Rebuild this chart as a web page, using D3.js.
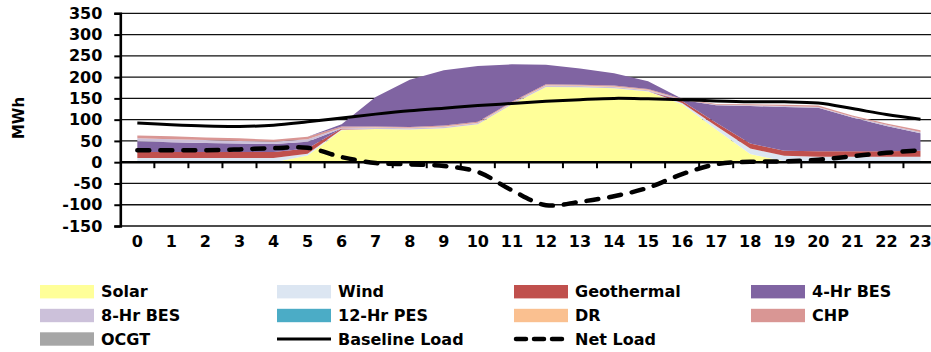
<!DOCTYPE html>
<html><head><meta charset="utf-8">
<script src="https://cdn.jsdelivr.net/npm/d3@7"></script>
<style>
html,body{margin:0;padding:0;background:#fff;}
svg{display:block;}
text{font-family:"DejaVu Sans",sans-serif;font-weight:bold;fill:#000;}
</style></head>
<body>
<svg id="chart" width="931" height="352"></svg>
<script>
// ---------------- data ----------------
const hours = d3.range(0, 24).map(String);
const solar      = [0,0,0,0,0,16,75,78,77,80,89,136,177,176,174,166,136,77,19,2,0,0,0,0];
const wind       = [10,10,10,10,10,4,2,0,0,0,0,0,0,0,0,1,3,8,13,13,13,13,13,13];
const geothermal = [14,14,14,14,14,12,2,0,0,0,0,0,0,0,0,0,5,8,12,12,13,13,13,14];
const bes4       = [25,23,21,20,19,16,0,0,0,0,0,0,0,0,0,0,2,41,88,103,102,79,59,41];
const bes8       = [7,7,7,6,5,6,2,3,3,3,3,3,3,3,3,2,1,1,2,2,2,2,3,3];
const pes12      = [0,0,0,0,0,0,0,0,0,0,0,0,0,0,0,0,0,0,0,0,0,0,0,0];
const dr         = [0,0,0,0,0,0,0,1,1,1,1,1,1,1,1,1,0,0,0,0,0,0,0,0];
const chp        = [7,7,6,6,5,6,3,2,2,2,2,2,2,2,2,2,2,2,2,3,3,3,3,4];
const ocgt       = [0,0,0,0,0,0,0,0,0,0,0,0,0,0,0,0,0,0,0,0,0,0,0,0];
const bes4Charge = [0,0,0,0,0,0,5,69,111,130,131,88,46,38,29,18,0,0,0,0,0,0,0,0];
const baselineLoad = [92,88,85,84,87,95,104,113,121,127,133,138,143,147,150,149,147,144,142,142,139,126,112,101];
const netLoad      = [28,28,28,30,33,34,12,-2,-5,-9,-23,-66,-101,-93,-80,-60,-28,-5,1,2,6,14,22,28];
const yTicks = [-150,-100,-50,0,50,100,150,200,250,300,350];

const seriesNames  = ["Solar","Wind","Geothermal","4-Hr BES","8-Hr BES","12-Hr PES","DR","CHP","OCGT"];
const seriesColors = ["#FFFF99","#DCE6F2","#C0504D","#8064A2","#CCC1DA","#4BACC6","#FAC090","#D99694","#A6A6A6"];
const lineNames = ["Baseline Load","Net Load"];

// ---------------- build table ----------------
const seriesArrays = [solar, wind, geothermal, bes4, bes8, pes12, dr, chp, ocgt, bes4Charge];
const keys = ["Solar","Wind","Geothermal","4-Hr BES","8-Hr BES","12-Hr PES","DR","CHP","OCGT","4-Hr BES charge"];
const colorOf = k => k === "4-Hr BES charge" ? seriesColors[3] : seriesColors[seriesNames.indexOf(k)];
const table = hours.map((h, i) => {
  const row = {hour: h};
  keys.forEach((k, j) => row[k] = seriesArrays[j][i]);
  return row;
});

// ---------------- scales ----------------
const svg = d3.select("#chart");
const pLeft = 120.3, pRight = 937.5, pTop = 13.3, pBottom = 226;
const x = d3.scaleBand().domain(hours).range([pLeft, pRight]).paddingInner(0).paddingOuter(0);
const cx = h => x(h) + x.bandwidth() / 2;
const y = d3.scaleLinear().domain([-150, 350]).range([pBottom, pTop]);

// gridlines
svg.append("g").selectAll("line").data(yTicks).join("line")
  .attr("x1", pLeft).attr("x2", pRight)
  .attr("y1", d => y(d)).attr("y2", d => y(d))
  .attr("stroke", "#111").attr("stroke-width", 1.3);

// stacked areas
const stack = d3.stack().keys(keys);
const stacked = stack(table);
const area = d3.area()
  .x(d => cx(d.data.hour))
  .y0(d => y(d[0])).y1(d => y(d[1]));
svg.append("g").selectAll("path").data(stacked).join("path")
  .attr("d", area)
  .attr("fill", d => colorOf(d.key));

// zero axis with category tick marks
svg.append("line").attr("x1", pLeft).attr("x2", pRight)
  .attr("y1", y(0)).attr("y2", y(0)).attr("stroke", "#000").attr("stroke-width", 2.6);
svg.append("g").selectAll("line").data(hours.slice(1)).join("line")
  .attr("x1", d => x(d)).attr("x2", d => x(d))
  .attr("y1", y(0)).attr("y2", y(0) + 6)
  .attr("stroke", "#000").attr("stroke-width", 2);

// lines
const line = d3.line().curve(d3.curveCatmullRom.alpha(0.5));
svg.append("path")
  .attr("d", line(baselineLoad.map((v, i) => [cx(hours[i]), y(v)])))
  .attr("fill", "none").attr("stroke", "#000").attr("stroke-width", 3);
svg.append("path")
  .attr("d", line(netLoad.map((v, i) => [cx(hours[i]), y(v)])))
  .attr("fill", "none").attr("stroke", "#000").attr("stroke-width", 4.5)
  .attr("stroke-dasharray", "12,11").attr("stroke-linecap", "round");

// y axis
const yAxis = d3.axisLeft(y).tickValues(yTicks).tickSize(6).tickPadding(12)
  .tickFormat(d => d < 0 ? "-" + Math.abs(d) : String(d));
const gy = svg.append("g").attr("transform", `translate(${pLeft},0)`).call(yAxis);
gy.select(".domain").attr("stroke", "#000").attr("stroke-width", 2.6);
gy.selectAll(".tick line").attr("stroke", "#000").attr("stroke-width", 2);
gy.selectAll(".tick text").style("font-size", "16px").style("font-family", "DejaVu Sans").style("font-weight", "bold").attr("fill", "#000");

// x labels
const xAxis = d3.axisBottom(x).tickSize(0).tickPadding(10);
const gx = svg.append("g").attr("transform", `translate(0,${pBottom})`).call(xAxis);
gx.select(".domain").remove();
gx.selectAll(".tick text").style("font-size", "16px").style("font-family", "DejaVu Sans").style("font-weight", "bold").attr("fill", "#000");

// y title
svg.append("text").attr("transform", "translate(24,118) rotate(-90)")
  .attr("text-anchor", "middle").style("font-size", "15px").text("MWh");

// legend
const legendItems = seriesNames.map((n, i) => ({name: n, type: "area", color: seriesColors[i]}))
  .concat([{name: lineNames[0], type: "solid"}, {name: lineNames[1], type: "dash"}]);
const colX = [40, 277, 514, 751];
const rowY = [291.7, 315.5, 339];
const lg = svg.append("g").selectAll("g").data(legendItems).join("g")
  .attr("transform", (d, i) => `translate(${colX[i % 4]},${rowY[Math.floor(i / 4)]})`);
lg.filter(d => d.type === "area").append("rect")
  .attr("x", 0).attr("y", -6.7).attr("width", 54).attr("height", 13.4).attr("fill", d => d.color);
lg.filter(d => d.type === "solid").append("line")
  .attr("x1", 0).attr("x2", 54).attr("y1", 0).attr("y2", 0).attr("stroke", "#000").attr("stroke-width", 3);
lg.filter(d => d.type === "dash").append("line")
  .attr("x1", 2).attr("x2", 54).attr("y1", 0).attr("y2", 0).attr("stroke", "#000").attr("stroke-width", 4.5)
  .attr("stroke-dasharray", "10,8").attr("stroke-linecap", "round");
lg.append("text").attr("x", 61).attr("y", 0).attr("dy", "0.36em")
  .style("font-size", "16px").text(d => d.name);
</script>
</body></html>
